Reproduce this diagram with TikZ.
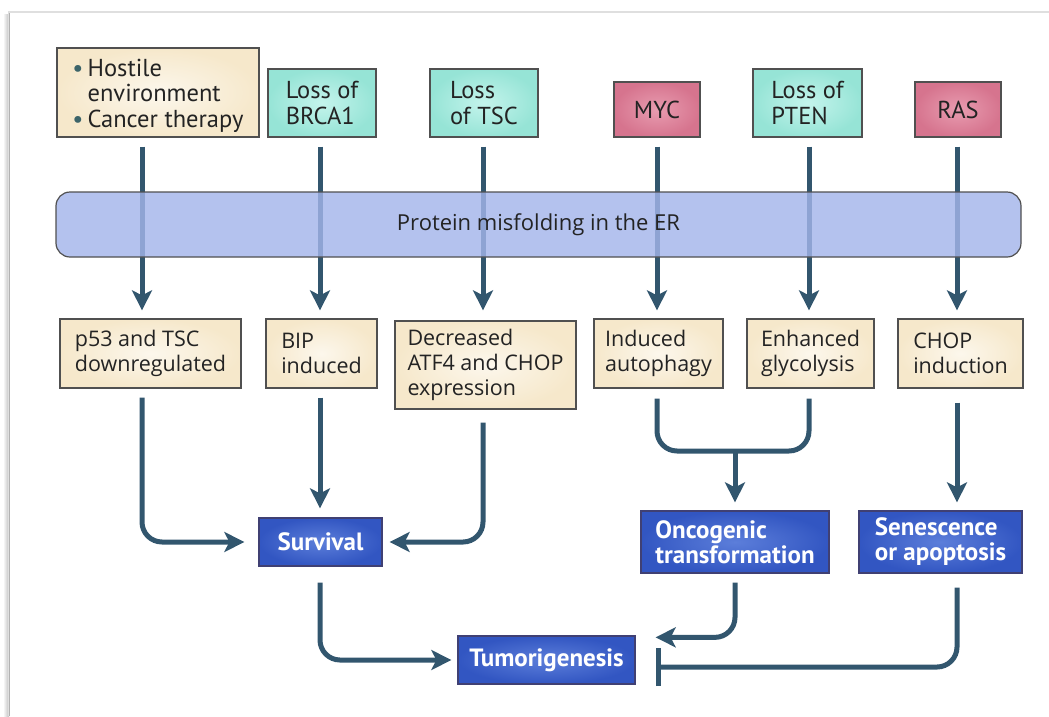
\documentclass[tikz,border=0pt]{standalone}
\usepackage{fontspec}
\setmainfont{Open Sans}
\newfontfamily\ptsans{PT Sans}
\usetikzlibrary{arrows.meta}
\definecolor{arrc}{RGB}{50,86,110}
\definecolor{beigeout}{RGB}{246,232,203}
\definecolor{beigein}{RGB}{252,247,236}
\definecolor{tealout}{RGB}{150,228,214}
\definecolor{tealin}{RGB}{196,244,236}
\definecolor{pinkout}{RGB}{214,116,142}
\definecolor{pinkin}{RGB}{232,156,176}
\definecolor{barc}{RGB}{163,180,234}
\definecolor{blueout}{RGB}{50,86,194}
\definecolor{bluein}{RGB}{92,126,218}
\definecolor{edgec}{RGB}{80,80,80}
\definecolor{txtc}{RGB}{35,35,35}
\definecolor{bulc}{RGB}{60,100,105}
\tikzset{
  box/.style={draw=edgec, line width=1.3pt, inner sep=0pt, align=left, text=txtc},
  topbox/.style={box, font=\ptsans\fontsize{24.5}{25.5}\selectfont},
  beigebox/.style={inner color=beigein, outer color=beigeout},
  tealbox/.style={inner color=tealin, outer color=tealout},
  pinkbox/.style={inner color=pinkin, outer color=pinkout},
  midbox/.style={box, beigebox, font=\fontsize{21.5}{25}\selectfont},
  outbox/.style={box, draw=edgec!80!blue, inner color=bluein, outer color=blueout, text=white,
     font=\ptsans\bfseries\fontsize{25}{25}\selectfont},
  conn/.style={draw=arrc, line width=5pt},
  arr/.style={conn, -{Stealth[length=20pt, width=20pt, inset=5pt]}},
}
\begin{document}
\begin{tikzpicture}[x=1pt, y=-1pt]
\useasboundingbox (0,0) rectangle (1049,716);
% frame
\shade[left color=white, right color=gray!50] (3,14) rectangle (9,716);
\draw[gray!25, line width=1.2pt] (9,716) -- (9,12) -- (1049,12);
\draw[gray!60, line width=1.6pt] (9.5,716) -- (9.5,13);

% columns
\coordinate (c1) at (142,0);
\coordinate (c2) at (320,0);
\coordinate (c3) at (483,0);
\coordinate (c4) at (657,0);
\coordinate (c5) at (809,0);
\coordinate (c6) at (957,0);
\coordinate (co) at (735,0);

% top row
\node[topbox, beigebox, minimum width=202pt, minimum height=89pt] (hostile) at (158,92.5)
  {\raisebox{0pt}[\dimexpr\height+8pt\relax][\depth]{\begin{tabular}{@{}l@{\,}l@{}}{\color{bulc}\textbullet} & Hostile\\ & environment\\ {\color{bulc}\textbullet} & Cancer therapy\end{tabular}}};
\node[topbox, tealbox, minimum width=108pt, minimum height=68pt] (brca) at (322,103) {Loss of\\BRCA1};
\node[topbox, tealbox, minimum width=108pt, minimum height=68pt] (tsc) at (484,103) {Loss\\of TSC};
\node[topbox, pinkbox, minimum width=86pt, minimum height=55pt] (myc) at (657,109.5) {MYC};
\node[topbox, tealbox, minimum width=109pt, minimum height=68pt] (pten) at (807.5,103) {Loss of\\PTEN};
\node[topbox, pinkbox, minimum width=86pt, minimum height=55pt] (ras) at (958,109.5) {RAS};

% middle row
\node[midbox, minimum width=181pt, minimum height=69pt] (p53) at (150.5,353.5) {p53 and TSC\\downregulated};
\node[midbox, minimum width=111pt, minimum height=69pt] (bip) at (321.5,353.5) {BIP\\induced};
\node[midbox, minimum width=181pt, minimum height=88pt] (dec) at (485.5,365) {Decreased\\ATF4 and CHOP\\expression};
\node[midbox, minimum width=129pt, minimum height=69pt] (auto) at (658.5,353.5) {Induced\\autophagy};
\node[midbox, minimum width=127pt, minimum height=69pt] (glyc) at (810.5,353.5) {Enhanced\\glycolysis};
\node[midbox, minimum width=125pt, minimum height=69pt] (chop) at (960.5,353.5) {CHOP\\induction};

% outcome row
\node[outbox, minimum width=123pt, minimum height=48pt] (surv) at (320.5,542) {Survival};
\node[outbox, minimum width=188pt, minimum height=62pt] (onco) at (735,542) {Oncogenic\\transformation};
\node[outbox, minimum width=163pt, minimum height=62pt] (sen) at (940.5,542) {Senescence\\or apoptosis};
\node[outbox, minimum width=177pt, minimum height=48pt] (tum) at (546.5,660) {Tumorigenesis};

% arrows top -> middle
\draw[arr, shorten <=9pt, shorten >=8pt] (hostile.south -| c1) -- (p53.north -| c1);
\draw[arr, shorten <=9pt, shorten >=8pt] (brca.south -| c2) -- (bip.north -| c2);
\draw[arr, shorten <=9pt, shorten >=10pt] (tsc.south -| c3) -- (dec.north -| c3);
\draw[arr, shorten <=9pt, shorten >=8pt] (myc.south -| c4) -- (auto.north -| c4);
\draw[arr, shorten <=9pt, shorten >=8pt] (pten.south -| c5) -- (glyc.north -| c5);
\draw[arr, shorten <=9pt, shorten >=8pt] (ras.south -| c6) -- (chop.north -| c6);

% ER bar (over the arrows, translucent)
\node[draw=edgec, line width=1.2pt, rounded corners=14pt, fill=barc, fill opacity=0.82, text opacity=1,
  text=txtc, font=\fontsize{22}{24}\selectfont, minimum width=965pt, minimum height=65pt, inner sep=0pt]
  (er) at (538.5,224.5) {Protein misfolding in the ER};

% middle -> outcomes
\draw[arr, rounded corners=20pt, shorten <=9pt, shorten >=14pt] (p53.south -| c1) |- (surv.west);
\draw[arr, shorten <=9pt, shorten >=9pt] (bip.south -| c2) -- (surv.north -| c2);
\draw[arr, rounded corners=20pt, shorten <=13pt, shorten >=7pt] (dec.south -| c3) |- (surv.east);
\coordinate (m) at (735,451);
\draw[conn, rounded corners=20pt, shorten <=10pt, shorten >=10pt] (auto.south -| c4) |- (m) -| (glyc.south -| c5);
\draw[arr, shorten >=8pt] (m) -- (onco.north);
\draw[arr, shorten <=14pt, shorten >=8pt] (chop.south -| c6) -- (sen.north -| c6);

% outcomes -> tumorigenesis
\draw[arr, rounded corners=20pt, shorten <=16pt, shorten >=6pt] (surv.south -| c2) |- (tum.west);
\draw[arr, rounded corners=20pt, shorten <=9pt] (onco.south -| co) |- ([xshift=20pt, yshift=-2pt]tum.north east);
\draw[conn, -{Bar[width=38pt]}, rounded corners=20pt, shorten <=14pt] (sen.south -| c6) |- ([xshift=20pt, yshift=-7pt]tum.east);
\end{tikzpicture}
\end{document}
